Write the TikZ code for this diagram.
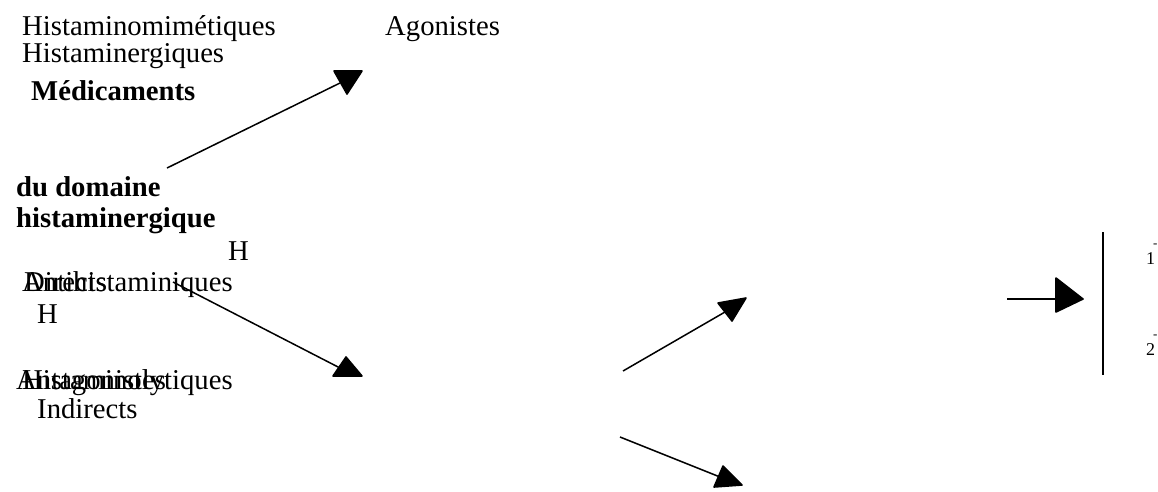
\documentclass[tikz,border=0pt]{standalone}
\usepackage{fontspec}
\setmainfont{Liberation Serif}
\begin{document}
\begin{tikzpicture}[x=1pt,y=-1pt,
  lbl/.style={anchor=base west,inner sep=0pt,font=\fontsize{28.7pt}{30pt}\selectfont},
  blbl/.style={lbl,font=\fontsize{28.7pt}{30pt}\selectfont\bfseries},
  sml/.style={anchor=base west,inner sep=0pt,font=\fontsize{18pt}{20pt}\selectfont},
  tiny/.style={anchor=base west,inner sep=0pt,font=\fontsize{13pt}{14pt}\selectfont},
  conn/.style={line width=1.5pt},
  head/.style={fill=black,draw=black,line width=1.6pt,line join=round}]
\useasboundingbox (0,0) rectangle (1158,491);
% texts
\node[lbl] (t1) at (22,35) {Histaminomimétiques};
\node[lbl] (t2) at (385,35) {Agonistes};
\node[lbl] (t3) at (22,62) {Histaminergiques};
\node[blbl] (t4) at (31,100) {Médicaments};
\node[blbl] (t5) at (16,196) {du domaine};
\node[blbl] (t6) at (16,227) {histaminergique};
\node[lbl] (t7) at (228,260) {H};
\node[lbl] (t8) at (22,291) {Antihistaminiques};
\node[lbl] (t9) at (24,291) {Directs};
\node[lbl] (t10) at (37,323) {H};
\node[lbl] (t11) at (16,389) {Antagonistes};
\node[lbl] (t12) at (22,389) {Histaminolytiques};
\node[lbl] (t13) at (37,418) {Indirects};
\node[sml] (n1) at (1146,264) {1};
\node[tiny] (m1) at (1153,247) {-};
\node[sml] (n2) at (1146,355) {2};
\node[tiny] (m2) at (1153,338) {-};
% connector end points
\coordinate (a1s) at (167,168); \coordinate (a1e) at (340,83);
\coordinate (a2s) at (173,282); \coordinate (a2e) at (340,368);
\coordinate (a3s) at (623,371); \coordinate (a3e) at (725,312);
\coordinate (a4s) at (620,437); \coordinate (a4e) at (720,477);
\coordinate (a5s) at (1007,299); \coordinate (a5e) at (1058,299);
\coordinate (vt) at (1103,232); \coordinate (vb) at (1103,375);
% connectors
\draw[conn] (a1s) -- (a1e);
\draw[conn] (a2s) -- (a2e);
\draw[conn] (a3s) -- (a3e);
\draw[conn] (a4s) -- (a4e);
\draw[conn] (a5s) -- (a5e);
\draw[line width=2pt] (vt) -- (vb);
% arrowheads
\filldraw[head] (334,71) -- (362,71) -- (347,94) -- cycle;
\filldraw[head] (346,357) -- (362,376) -- (333,376) -- cycle;
\filldraw[head] (718,303) -- (746,298) -- (732,321) -- cycle;
\filldraw[head] (723,466) -- (742,485) -- (714,487) -- cycle;
\filldraw[head] (1056,278) -- (1083,299) -- (1056,312) -- cycle;
\end{tikzpicture}
\end{document}
